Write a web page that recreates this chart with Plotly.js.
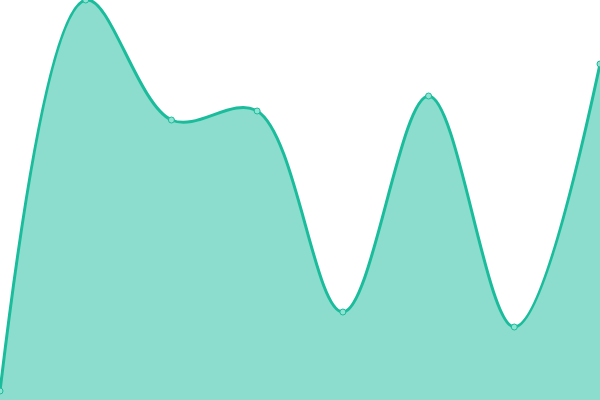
<!DOCTYPE html>
<html><head><meta charset="utf-8">
<script src="https://cdn.plot.ly/plotly-3.0.1.min.js"></script>
<style>html,body{margin:0;padding:0;background:#fff}#chart{width:600px;height:400px}</style>
</head><body><div id="chart"></div>
<script>
const xValues = [0, 1, 2, 3, 4, 5, 6, 7];
const yValues = [9, 400, 280, 289, 88, 304, 73, 336];

Plotly.newPlot('chart', [{
  x: xValues,
  y: yValues,
  type: 'scatter',
  mode: 'lines+markers',
  fill: 'tozeroy',
  fillcolor: 'rgba(26,188,156,0.5)',
  line: {color: '#1abc9c', width: 3, shape: 'spline', smoothing: 1},
  marker: {size: 6, color: '#8fe3d2', line: {color: '#1abc9c', width: 1}},
  cliponaxis: false,
  hoverinfo: 'none'
}], {
  width: 600, height: 400,
  margin: {l: 0, r: 0, t: 0, b: 0},
  paper_bgcolor: '#fff', plot_bgcolor: '#fff',
  showlegend: false,
  xaxis: {range: [0, 7], visible: false, fixedrange: true},
  yaxis: {range: [0, 400], visible: false, fixedrange: true}
}, {staticPlot: true, displayModeBar: false});
</script></body></html>
